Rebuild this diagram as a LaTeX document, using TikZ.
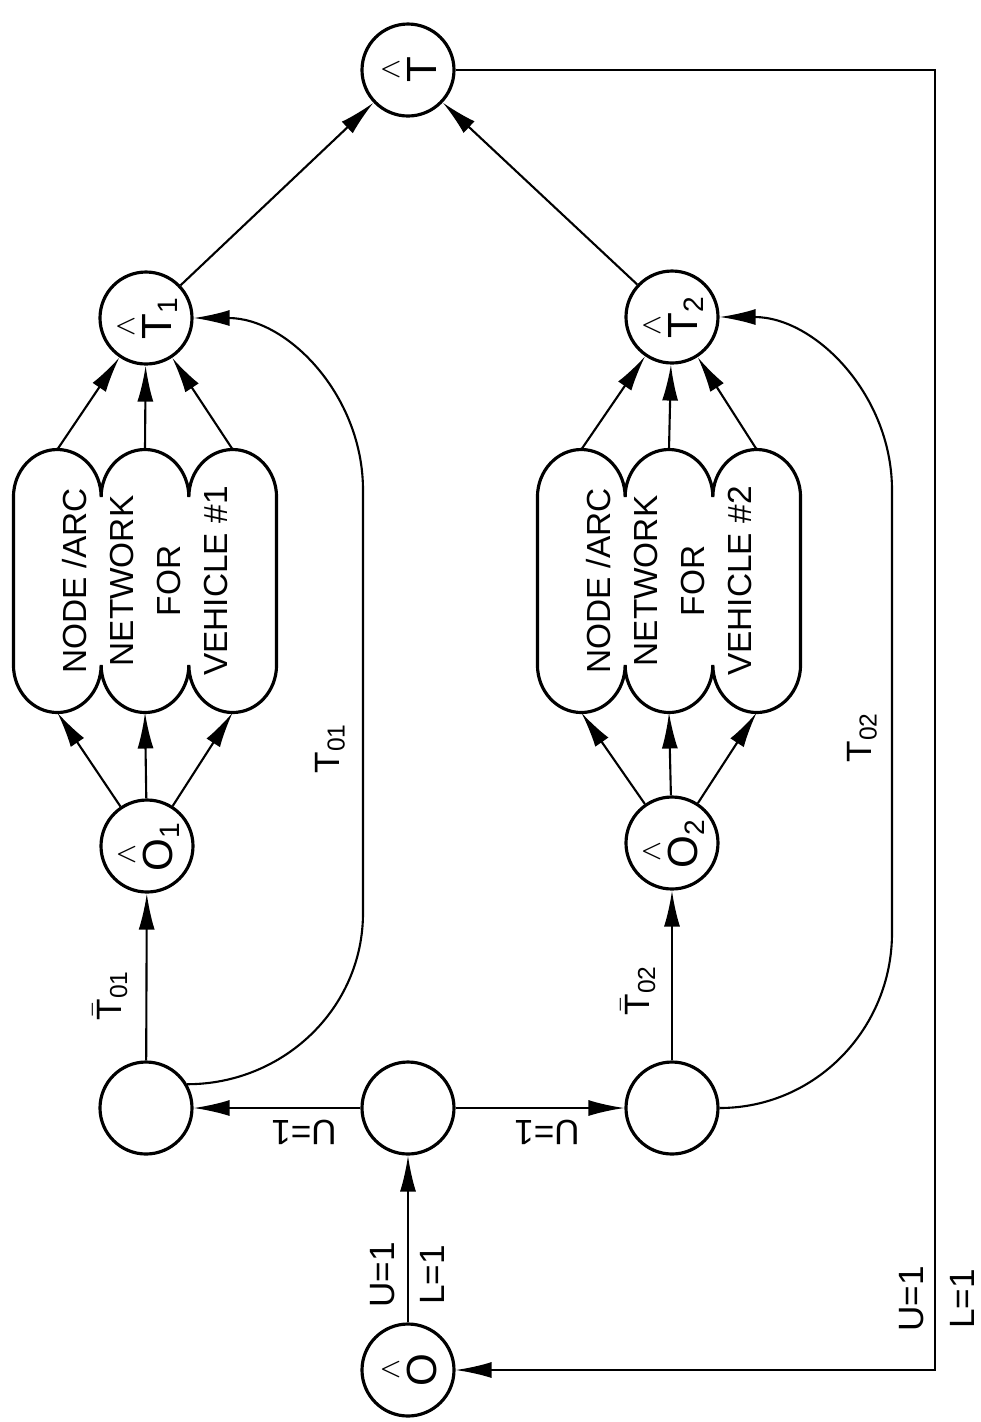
\documentclass[tikz,border=0pt]{standalone}
\usepackage{amsmath}
\usepackage{fontspec}
\setmainfont{Liberation Sans}
\usetikzlibrary{arrows.meta}

% outline of a three-lobed network box round a node's centre
\newcommand{\netblob}[1]{%
  \draw[blob] ([shift={(-1.3155,-0.84)}]#1.center) -- ++(0,1.68)
    arc[start angle=180, end angle=0, x radius=0.4385, y radius=0.475]
    arc[start angle=180, end angle=0, x radius=0.4385, y radius=0.475]
    arc[start angle=180, end angle=0, x radius=0.4385, y radius=0.475]
    -- ++(0,-1.68)
    arc[start angle=0, end angle=-180, x radius=0.4385, y radius=0.475]
    arc[start angle=0, end angle=-180, x radius=0.4385, y radius=0.475]
    arc[start angle=0, end angle=-180, x radius=0.4385, y radius=0.475]
    -- cycle;}
\newcommand{\hatsym}[1]{\overset{\wedge}{\mathrm{#1}}}

\begin{document}
\begin{tikzpicture}[
  vtx/.style={circle, draw, line width=0.9pt, minimum size=0.92cm, inner sep=0pt, font=\fontsize{12}{14}\selectfont},
  blob/.style={line width=0.9pt},
  arr/.style={line width=0.6pt, -{Latex[length=3.6mm,width=1.6mm]}},
  lbl/.style={rotate=90, inner sep=1pt, font=\fontsize{10}{12}\selectfont},
  flip/.style={rotate=180, inner sep=1pt, font=\fontsize{10}{12}\selectfont},
  nettext/.style={rotate=90, align=center, inner sep=0pt, font=\fontsize{9.5}{13.4}\selectfont}
]
\useasboundingbox (0,0) rectangle (9.81,-14.22);

\node[vtx] (that) at (4.08,-0.70) {\rotatebox{90}{$\hatsym{T}$}};
\node[vtx] (t1) at (1.46,-3.18) {\rotatebox{90}{$\hatsym{T}_{\mathrm{1}}$}};
\node[vtx] (t2) at (6.72,-3.17) {\rotatebox{90}{$\hatsym{T}_{\mathrm{2}}$}};
\node[nettext] (net1) at (1.45,-5.81) {NODE /ARC\\NETWORK\\FOR\\VEHICLE \#1};
\node[nettext] (net2) at (6.69,-5.81) {NODE /ARC\\NETWORK\\FOR\\VEHICLE \#2};
\node[vtx] (o1) at (1.47,-8.46) {\rotatebox{90}{$\hatsym{O}_{\mathrm{1}}$}};
\node[vtx] (o2) at (6.72,-8.43) {\rotatebox{90}{$\hatsym{O}_{\mathrm{2}}$}};
\node[vtx] (lc) at (1.46,-11.08) {};
\node[vtx] (mc) at (4.08,-11.08) {};
\node[vtx] (rc) at (6.72,-11.08) {};
\node[vtx] (ohat) at (4.08,-13.70) {\rotatebox{90}{$\hatsym{O}$}};

\coordinate (lb) at (3.63,-9.13);
\coordinate (lt) at (3.63,-4.90);
\coordinate (rb) at (8.92,-9.33);
\coordinate (rt) at (8.92,-4.90);
\coordinate (fb) at (9.35,-0.70);

\netblob{net1}
\netblob{net2}

\foreach \k in {-1,0,1} {
  \draw[arr] (o1) -- ([shift={(\k*0.877,-1.315)}]net1.center);
  \draw[arr] ([shift={(\k*0.877,1.315)}]net1.center) -- (t1);
  \draw[arr] (o2) -- ([shift={(\k*0.877,-1.315)}]net2.center);
  \draw[arr] ([shift={(\k*0.877,1.315)}]net2.center) -- (t2);
}

\draw[arr] (t1) -- (that);
\draw[arr] (t2) -- (that);
\draw[arr] (that) -- (fb) -- (fb |- ohat) -- (ohat);
\draw[arr] (ohat) -- (mc);
\draw[arr] (mc) -- (lc);
\draw[arr] (mc) -- (rc);
\draw[arr] (lc) -- (o1);
\draw[arr] (rc) -- (o2);
\draw[arr] (lc.30) to[out=0,in=-90] (lb) -- (lt) to[out=90,in=0] (t1);
\draw[arr] (rc) to[out=0,in=-90] (rb) -- (rt) to[out=90,in=0] (t2);

\node[lbl] (tb01) at (1.10,-9.95) {$\bar{\mathrm{T}}_{\mathrm{01}}$};
\node[lbl] (t01) at (3.30,-7.48) {$\mathrm{T}_{\mathrm{01}}$};
\node[lbl] (tb02) at (6.38,-9.90) {$\bar{\mathrm{T}}_{\mathrm{02}}$};
\node[lbl] (t02) at (8.62,-7.37) {$\mathrm{T}_{\mathrm{02}}$};
\node[lbl] (u0) at (3.83,-12.75) {U=1};
\node[lbl] (l0) at (4.32,-12.75) {L=1};
\node[lbl] (u9) at (9.12,-12.99) {U=1};
\node[lbl] (l9) at (9.62,-12.99) {L=1};
\node[flip] (ul) at (3.04,-11.32) {U=1};
\node[flip] (ur) at (5.47,-11.32) {U=1};
\end{tikzpicture}
\end{document}
